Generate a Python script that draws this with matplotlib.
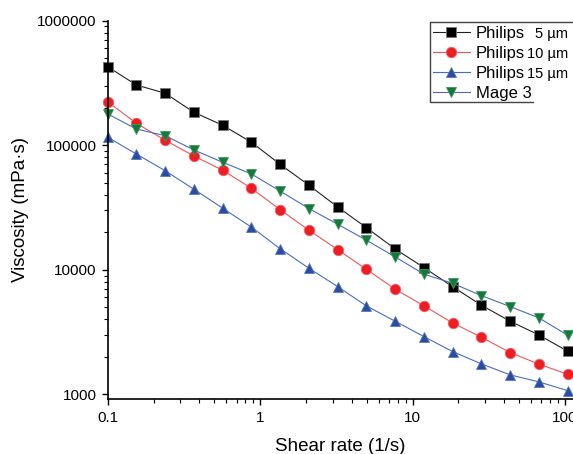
import matplotlib
matplotlib.use('Agg')
import matplotlib.pyplot as plt
from matplotlib.ticker import FuncFormatter
from matplotlib.lines import Line2D

plt.rcParams['font.family'] = ['Liberation Sans', 'DejaVu Sans']

# Data
shear_rate = [0.1, 0.154, 0.238, 0.368, 0.568, 0.877, 1.35, 2.09, 3.23,
              4.98, 7.69, 11.9, 18.3, 28.3, 43.7, 67.5, 104]
philips_5 = [426000, 304000, 261000, 183500, 144400, 105500, 70300, 47700, 31900,
             21800, 14700, 10400, 7330, 5200, 3870, 3000, 2225]
philips_10 = [223000, 150000, 109500, 81900, 62900, 45100, 30400, 20800, 14500,
              10100, 6990, 5135, 3750, 2880, 2170, 1750, 1455]
philips_15 = [115700, 85000, 62400, 44300, 31200, 22000, 14800, 10300, 7330,
              5135, 3870, 2910, 2210, 1760, 1436, 1262, 1075]
mage_3 = [177900, 134900, 119200, 91500, 72900, 58700, 42900, 31000, 23200,
          17300, 12700, 9220, 7800, 6210, 5070, 4115, 2990]

series_labels = ['Philips', 'Philips', 'Philips', 'Mage 3']
size_labels = ['5 µm', '10 µm', '15 µm']

W, H = 573, 454
fig = plt.figure(figsize=(W / 100, H / 100), dpi=100)
ax = fig.add_axes([107.7 / W, 55 / H, (W - 107.7) / W, 378.5 / H])

# Plot each series with its marker style
h1, = ax.plot(shear_rate, philips_5, color='#222222', lw=0.8, marker='s', ms=7,
              mfc='black', mec='#777777', mew=0.6, clip_on=False)
h2, = ax.plot(shear_rate, philips_10, color='#F0555A', lw=0.8, marker='o', ms=7.5,
              mfc='#EE1D23', mec='#F26065', mew=0.6, clip_on=False)
h3, = ax.plot(shear_rate, philips_15, color='#4A6CC0', lw=0.8, marker='^', ms=7.8,
              mfc='#2B4DA0', mec='#5676C4', mew=0.6, clip_on=False)
h4, = ax.plot(shear_rate, mage_3, color='#4A6CC0', lw=0.8, marker='v', ms=7.8,
              mfc='#137A37', mec='#3E9560', mew=0.6, clip_on=False)

ax.set_xscale('log')
ax.set_yscale('log')
ax.set_xlim(0.1, 112.9)
ax.set_ylim(920, 1e6)

ax.xaxis.set_major_formatter(FuncFormatter(lambda v, p: f'{v:g}'))
ax.yaxis.set_major_formatter(FuncFormatter(lambda v, p: f'{int(round(v))}'))
ax.tick_params(which='major', direction='out', length=4.5, width=1, labelsize=11)
ax.tick_params(which='minor', direction='out', length=3, width=0.8)
ax.tick_params(axis='x', which='major', pad=4.5)

for side in ['top', 'right']:
    ax.spines[side].set_visible(False)
for side in ['left', 'bottom']:
    ax.spines[side].set_linewidth(1.2)

ax.set_xlabel('Shear rate (1/s)', fontsize=13.5, labelpad=9)
ax.set_ylabel('Viscosity (mPa·s)', fontsize=13.5, labelpad=6)

# Legend
leg = fig.legend([h1, h2, h3, h4], series_labels, loc='upper left',
                 bbox_to_anchor=(433 / W, 1 - 26 / H), frameon=False,
                 fontsize=12, handlelength=2.2, handletextpad=0.35,
                 labelspacing=0.3, borderpad=0.0, borderaxespad=0)

fig.canvas.draw()
for t, s in zip(leg.get_texts()[:3], size_labels):
    x0, y0 = t.get_transform().transform(t.get_position())
    fig.text(568 / W, y0 / H, s, ha='right', va='baseline', fontsize=10.5)

# Legend frame (left, top and part of the bottom edge)
fx = [1.02, 430 / W, 430 / W, 533 / W]
fy = [1 - 22 / H, 1 - 22 / H, 1 - 102 / H, 1 - 102 / H]
fig.add_artist(Line2D(fx, fy, transform=fig.transFigure, color='#444444', lw=1))

plt.savefig('out.png', dpi=100)
plt.close(fig)
